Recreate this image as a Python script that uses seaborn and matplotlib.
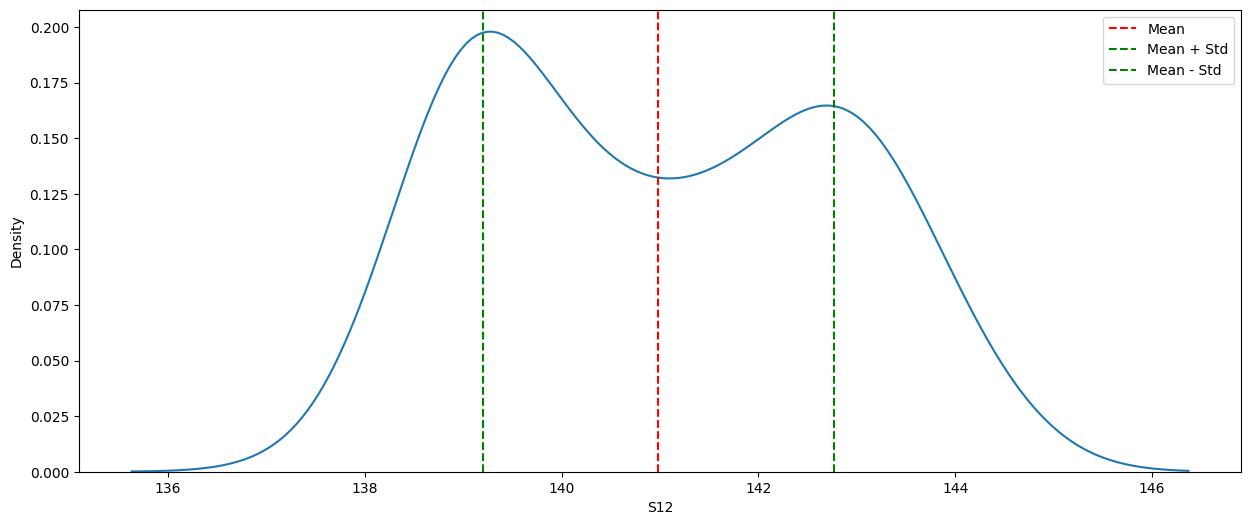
# density of S12 with mean / std markers
import numpy as np
import pandas as pd
import matplotlib
matplotlib.use("Agg")
import matplotlib.pyplot as plt
import seaborn as sns

# S12 readings (value -> how many times it occurs)
s12_values = [138, 139, 140, 141, 142, 143, 144]
s12_counts = [1, 18, 8, 7, 8, 13, 4]

s12 = pd.Series(np.repeat(s12_values, s12_counts), name="S12")

mean = s12.mean()
std = s12.std()

plt.figure(figsize=(15, 6))
sns.kdeplot(s12)
plt.axvline(mean, color='r', linestyle='--', label='Mean')
plt.axvline(mean + std, color='g', linestyle='--', label='Mean + Std')
plt.axvline(mean - std, color='g', linestyle='--', label='Mean - Std')
plt.legend()

plt.savefig("out.png", dpi=100, bbox_inches="tight")
